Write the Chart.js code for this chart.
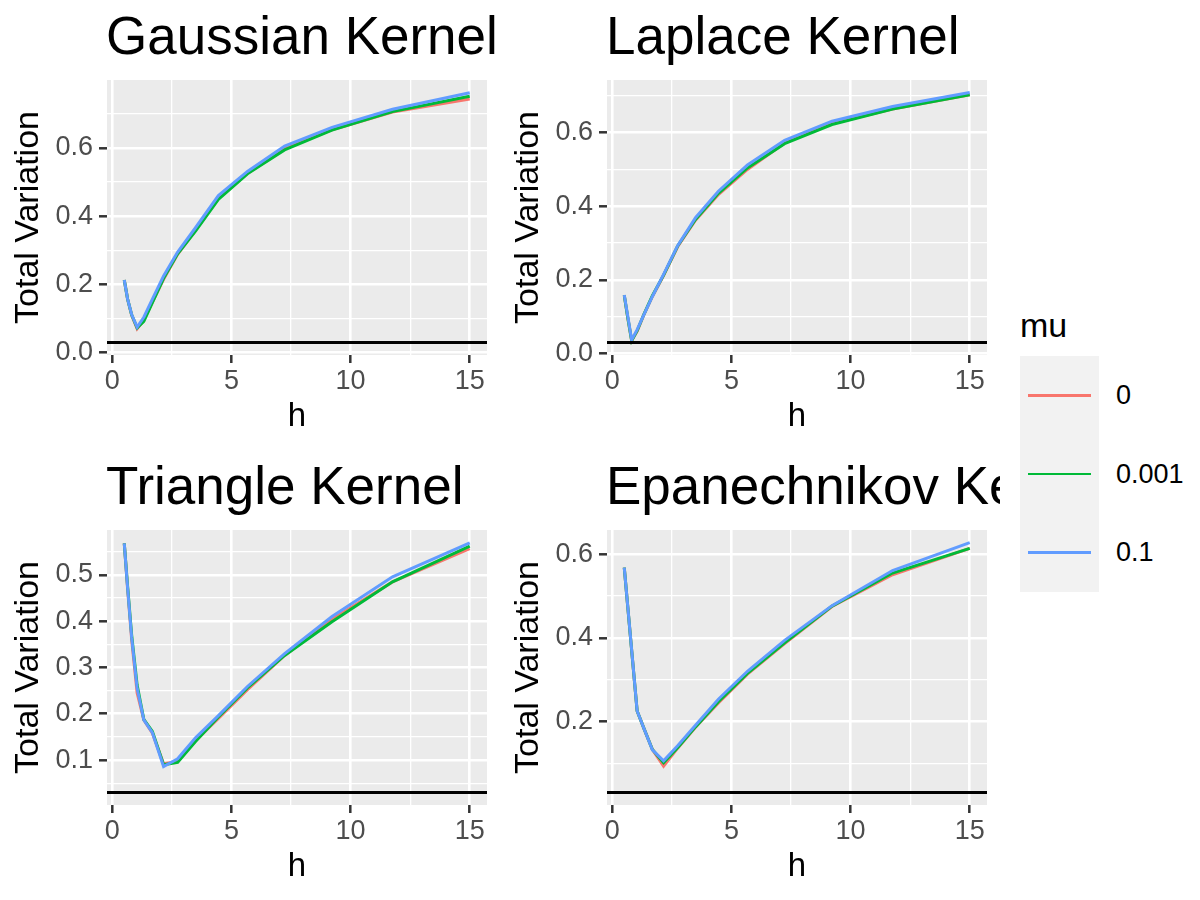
<!DOCTYPE html>
<html>
<head>
<meta charset="utf-8">
<title>Total Variation by kernel</title>
<script src="https://cdn.jsdelivr.net/npm/chart.js"></script>
<style>
  body { margin: 0; background: #fff; font-family: "Liberation Sans", Arial, sans-serif; }
  #wrap { position: relative; width: 1200px; height: 900px; overflow: hidden; }
  canvas { position: absolute; }
  #legendTitle { position: absolute; left: 1020px; top: 308px; font-size: 34px; line-height: 34px; color: #000; }
  #legendRows { position: absolute; left: 1020px; top: 356px; }
  .row { display: flex; align-items: center; height: 78.7px; }
  .key { position: relative; width: 79px; height: 100%; background: #F2F2F2; }
  .key span { position: absolute; left: 8px; right: 8px; top: 50%; height: 2.8px; margin-top: -1.4px; }
  .lab { margin-left: 17px; font-size: 27px; line-height: 27px; color: #000; }
</style>
</head>
<body>
<div id="wrap">
  <canvas id="gauss" width="500" height="450" style="left:0px;top:0px"></canvas>
  <canvas id="laplace" width="500" height="450" style="left:500px;top:0px"></canvas>
  <canvas id="triangle" width="500" height="450" style="left:0px;top:450px"></canvas>
  <canvas id="epan" width="500" height="450" style="left:500px;top:450px"></canvas>
  <div id="legendTitle">mu</div>
  <div id="legendRows"></div>
</div>
<script>
// bandwidths on the x axis
const h = [0.5, 0.64, 0.81, 1.04, 1.32, 1.68, 2.15, 2.74, 3.49, 4.45, 5.67, 7.23, 9.22, 11.76, 15];

const muLabels = ['0', '0.001', '0.1'];
const muColors = ['#F8766D', '#00BA38', '#619CFF'];
const hline = 0.03;

const gaussMu0   = [0.213, 0.157, 0.110, 0.070, 0.095, 0.148, 0.215, 0.288, 0.358, 0.452, 0.525, 0.597, 0.653, 0.705, 0.743];
const gaussMu001 = [0.213, 0.157, 0.111, 0.073, 0.092, 0.147, 0.218, 0.290, 0.356, 0.449, 0.524, 0.594, 0.652, 0.706, 0.751];
const gaussMu01  = [0.213, 0.157, 0.112, 0.075, 0.104, 0.157, 0.225, 0.295, 0.366, 0.460, 0.531, 0.605, 0.660, 0.713, 0.761];

const lapMu0   = [0.158, 0.100, 0.035, 0.060, 0.105, 0.155, 0.212, 0.290, 0.362, 0.432, 0.500, 0.572, 0.625, 0.664, 0.703];
const lapMu001 = [0.158, 0.100, 0.035, 0.062, 0.106, 0.157, 0.213, 0.292, 0.364, 0.435, 0.504, 0.570, 0.622, 0.664, 0.703];
const lapMu01  = [0.159, 0.104, 0.037, 0.065, 0.105, 0.155, 0.215, 0.293, 0.369, 0.441, 0.512, 0.579, 0.631, 0.671, 0.709];

const triMu0   = [0.568, 0.470, 0.360, 0.245, 0.187, 0.158, 0.092, 0.097, 0.142, 0.190, 0.252, 0.326, 0.404, 0.485, 0.557];
const triMu001 = [0.568, 0.475, 0.370, 0.262, 0.188, 0.162, 0.090, 0.095, 0.140, 0.193, 0.256, 0.326, 0.399, 0.485, 0.562];
const triMu01  = [0.568, 0.472, 0.365, 0.255, 0.187, 0.159, 0.086, 0.103, 0.148, 0.196, 0.259, 0.330, 0.410, 0.496, 0.569];

const epaMu0   = [0.568, 0.478, 0.370, 0.225, 0.184, 0.133, 0.093, 0.136, 0.186, 0.244, 0.313, 0.386, 0.475, 0.551, 0.614];
const epaMu001 = [0.568, 0.478, 0.370, 0.225, 0.184, 0.133, 0.101, 0.137, 0.187, 0.247, 0.315, 0.388, 0.476, 0.555, 0.614];
const epaMu01  = [0.568, 0.479, 0.371, 0.225, 0.184, 0.132, 0.106, 0.142, 0.191, 0.253, 0.320, 0.394, 0.477, 0.561, 0.628];

// axis breaks
const xTicks = [0, 2.5, 5, 7.5, 10, 12.5, 15];
const xMajor = [0, 5, 10, 15];
const yTicksA = [0, 0.1, 0.2, 0.3, 0.4, 0.5, 0.6, 0.7];
const yMajorA = [0, 0.2, 0.4, 0.6];
const yTicksTri = [0.05, 0.1, 0.15, 0.2, 0.25, 0.3, 0.35, 0.4, 0.45, 0.5, 0.55];
const yMajorTri = [0.1, 0.2, 0.3, 0.4, 0.5];
const yTicksEpa = [0.1, 0.2, 0.3, 0.4, 0.5, 0.6];
const yMajorEpa = [0.2, 0.4, 0.6];

Chart.defaults.font.family = '"Liberation Sans", Arial, sans-serif';

function isMajor(v, major) {
  return major.some(m => Math.abs(m - v) < 1e-9);
}

const panelPlugin = {
  id: 'panel',
  beforeDraw(chart) {
    const a = chart.chartArea, ctx = chart.ctx;
    ctx.save();
    ctx.fillStyle = '#EBEBEB';
    ctx.fillRect(a.left, a.top, a.right - a.left, a.bottom - a.top);
    ctx.restore();
  },
  afterDatasetsDraw(chart) {
    const a = chart.chartArea, ctx = chart.ctx;
    const y = chart.scales.y.getPixelForValue(hline);
    ctx.save();
    ctx.strokeStyle = '#000';
    ctx.lineWidth = 2.8;
    ctx.beginPath();
    ctx.moveTo(a.left, y);
    ctx.lineTo(a.right, y);
    ctx.stroke();
    ctx.restore();
  },
  afterDraw(chart, args, opts) {
    const ctx = chart.ctx;
    ctx.save();
    ctx.font = '53px "Liberation Sans", Arial, sans-serif';
    ctx.fillStyle = '#000';
    ctx.textBaseline = 'alphabetic';
    ctx.textAlign = 'left';
    ctx.fillText(opts.title, chart.chartArea.left - 1, 54);
    ctx.restore();
  }
};

function makePanel(id, title, series, yMin, yMax, yTicks, yMajor) {
  const tickFont = { size: 27 };
  new Chart(document.getElementById(id), {
    type: 'line',
    data: {
      datasets: series.map((vals, i) => ({
        label: muLabels[i],
        data: h.map((x, j) => ({ x: x, y: vals[j] })),
        borderColor: muColors[i],
        borderWidth: 3,
        pointRadius: 0,
        tension: 0,
        fill: false,
        order: 2 - i
      }))
    },
    options: {
      responsive: false,
      animation: false,
      layout: { padding: { top: 80, right: 13, bottom: 0, left: 0 } },
      plugins: {
        legend: { display: false },
        tooltip: { enabled: false },
        panel: { title: title }
      },
      scales: {
        x: {
          type: 'linear',
          min: -0.225,
          max: 15.725,
          afterFit: s => { s.height = 95; },
          afterBuildTicks: s => { s.ticks = xTicks.map(v => ({ value: v })); },
          ticks: {
            autoSkip: false,
            maxRotation: 0,
            padding: 2,
            font: tickFont,
            color: '#4D4D4D',
            callback: v => isMajor(v, xMajor) ? String(v) : ''
          },
          grid: {
            color: '#FFFFFF',
            lineWidth: c => isMajor(c.tick.value, xMajor) ? 2.6 : 1.3,
            tickColor: c => isMajor(c.tick.value, xMajor) ? '#333333' : 'rgba(0,0,0,0)',
            tickLength: 8,
            tickWidth: 2.5
          },
          border: { display: false },
          title: { display: true, text: 'h', color: '#000', font: { size: 33 }, padding: { top: 0, bottom: 13 } }
        },
        y: {
          min: yMin,
          max: yMax,
          afterFit: s => { s.width = 107; },
          afterBuildTicks: s => { s.ticks = yTicks.map(v => ({ value: v })); },
          ticks: {
            autoSkip: false,
            padding: 6,
            font: tickFont,
            color: '#4D4D4D',
            callback: v => isMajor(v, yMajor) ? v.toFixed(1) : ''
          },
          grid: {
            color: '#FFFFFF',
            lineWidth: c => isMajor(c.tick.value, yMajor) ? 2.6 : 1.3,
            tickColor: c => isMajor(c.tick.value, yMajor) ? '#333333' : 'rgba(0,0,0,0)',
            tickLength: 8,
            tickWidth: 2.5
          },
          border: { display: false },
          title: { display: true, text: 'Total Variation', color: '#000', font: { size: 34 }, padding: { top: 8, bottom: 0 } }
        }
      }
    },
    plugins: [panelPlugin]
  });
}

makePanel('gauss', 'Gaussian Kernel', [gaussMu0, gaussMu001, gaussMu01], -0.0066, 0.7986, yTicksA, yMajorA);
makePanel('laplace', 'Laplace Kernel', [lapMu0, lapMu001, lapMu01], -0.004, 0.743, yTicksA, yMajorA);
makePanel('triangle', 'Triangle Kernel', [triMu0, triMu001, triMu01], 0.003, 0.597, yTicksTri, yMajorTri);
makePanel('epan', 'Epanechnikov Kernel', [epaMu0, epaMu001, epaMu01], 0.0001, 0.658, yTicksEpa, yMajorEpa);

// shared legend
const rows = document.getElementById('legendRows');
muLabels.forEach((lab, i) => {
  const row = document.createElement('div');
  row.className = 'row';
  row.innerHTML = '<div class="key"><span style="background:' + muColors[i] + '"></span></div><div class="lab">' + lab + '</div>';
  rows.appendChild(row);
});
</script>
</body>
</html>
